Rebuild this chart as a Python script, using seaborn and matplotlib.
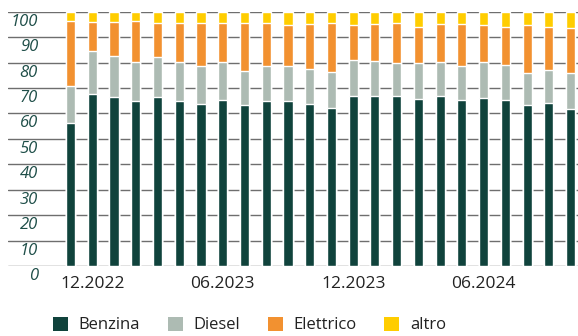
import numpy as np
import pandas as pd
import matplotlib
matplotlib.use("Agg")
import matplotlib.pyplot as plt
import seaborn as sns
from matplotlib.patches import Patch

# data: monthly share (%) by fuel type, 11.2022 - 10.2024
months = ["11.2022", "12.2022", "01.2023", "02.2023", "03.2023", "04.2023",
          "05.2023", "06.2023", "07.2023", "08.2023", "09.2023", "10.2023",
          "11.2023", "12.2023", "01.2024", "02.2024", "03.2024", "04.2024",
          "05.2024", "06.2024", "07.2024", "08.2024", "09.2024", "10.2024"]
benzina = [56.4, 67.6, 66.3, 64.9, 66.3, 64.9, 63.7, 65.4, 63.3, 64.9, 64.9, 63.7,
           62.3, 66.7, 66.7, 66.7, 65.7, 66.7, 65.4, 66.2, 65.4, 63.3, 64.2, 61.7]
diesel = [14.4, 16.9, 16.3, 15.2, 15.7, 15.2, 14.9, 14.7, 13.4, 13.7, 13.7, 13.9,
          13.8, 14.3, 13.9, 13.0, 14.0, 13.4, 13.2, 13.9, 13.6, 12.6, 12.9, 14.1]
elettrico = [25.7, 11.6, 13.5, 16.4, 13.7, 15.6, 17.1, 15.6, 19.0, 17.1, 16.0, 17.6,
             19.6, 13.6, 14.6, 16.0, 14.4, 15.1, 16.6, 14.5, 15.1, 18.7, 17.0, 17.8]
altro = [3.5, 3.9, 3.9, 3.5, 4.3, 4.3, 4.3, 4.3, 4.3, 4.3, 5.4, 4.8,
         4.3, 5.4, 4.8, 4.3, 5.9, 4.8, 4.8, 5.4, 5.9, 5.4, 5.9, 6.4]
series_names = ["Benzina", "Diesel", "Elettrico", "altro"]
tick_labels = ["12.2022", "06.2023", "12.2023", "06.2024"]
y_ticks = [0, 10, 20, 30, 40, 50, 60, 70, 80, 90, 100]

colors = {"Benzina": "#10433c", "Diesel": "#adbbb3",
          "Elettrico": "#f29130", "altro": "#ffcd00"}

df = pd.DataFrame({"month": months, "Benzina": benzina, "Diesel": diesel,
                   "Elettrico": elettrico, "altro": altro})
# cumulative tops, drawn tallest first so shorter ones sit on top
cum = df[series_names].cumsum(axis=1)

sns.set_style("white")
plt.rcParams["font.family"] = ["Open Sans", "DejaVu Sans"]

fig = plt.figure(figsize=(5.78, 3.36), dpi=100)
ax = fig.add_axes([8 / 578, 70 / 336, 570 / 578, 254.3 / 336])

for name in reversed(series_names):
    sns.barplot(x=df["month"], y=cum[name], order=months, color=colors[name],
                saturation=1, width=0.42, ax=ax)

ax.set_xlim(-2.875, 23.34)
ax.set_ylim(0, 100)
ax.set_axisbelow(True)
ax.set_yticks(y_ticks)
ax.yaxis.grid(True, color="#6e6e6e", linewidth=1.0)
ax.set_yticklabels([])
ax.tick_params(length=0)
for s in ax.spines.values():
    s.set_visible(False)
ax.set_xlabel("")
ax.set_ylabel("")

# y labels sit just below their grid line
for v in y_ticks:
    ax.annotate(str(v), xy=(0, v), xycoords=ax.get_yaxis_transform(),
                xytext=(30, -10), textcoords="offset pixels",
                ha="right", va="center", fontsize=12, style="italic",
                color="#1e4e48")

ax.set_xticks([months.index(m) for m in tick_labels])
ax.set_xticklabels(tick_labels, fontsize=12.5, color="#222222")
ax.tick_params(axis="x", pad=7)

handles = [Patch(facecolor=colors[n], edgecolor="none") for n in series_names]
fig.legend(handles, series_names, loc="lower left", bbox_to_anchor=(43 / 578, -0.022),
           ncol=4, frameon=False, fontsize=12, handlelength=0.9, handleheight=0.9,
           handletextpad=0.65, columnspacing=1.65, borderpad=0.1, labelcolor="#222222")

fig.savefig("out.png", dpi=100)
